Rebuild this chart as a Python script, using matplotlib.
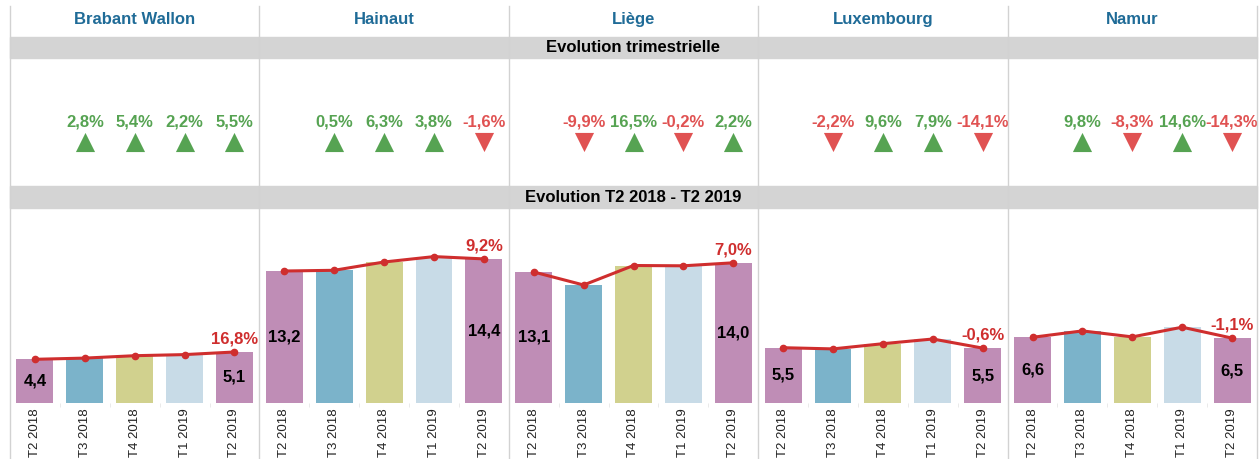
import matplotlib
matplotlib.use("Agg")
import matplotlib.pyplot as plt
from matplotlib.patches import Rectangle
from matplotlib.lines import Line2D

plt.rcParams['font.family'] = ['Liberation Sans', 'DejaVu Sans']

# ── données ──
provinces = ["Brabant Wallon", "Hainaut", "Liège", "Luxembourg", "Namur"]
quarters = ["T2 2018", "T3 2018", "T4 2018", "T1 2019", "T2 2019"]

brabant = [4.37, 4.49, 4.73, 4.84, 5.10]
hainaut = [13.20, 13.27, 14.10, 14.64, 14.41]
liege = [13.10, 11.80, 13.75, 13.72, 14.02]
luxembourg = [5.53, 5.41, 5.93, 6.40, 5.49]
namur = [6.57, 7.21, 6.61, 7.58, 6.49]
values = [brabant, hainaut, liege, luxembourg, namur]

first_labels = ["4,4", "13,2", "13,1", "5,5", "6,6"]
last_labels = ["5,1", "14,4", "14,0", "5,5", "6,5"]
yoy_labels = ["16,8%", "9,2%", "7,0%", "-0,6%", "-1,1%"]

qoq = [
    [2.8, 5.4, 2.2, 5.5],
    [0.5, 6.3, 3.8, -1.6],
    [-9.9, 16.5, -0.2, 2.2],
    [-2.2, 9.6, 7.9, -14.1],
    [9.8, -8.3, 14.6, -14.3],
]

bar_colors = ["#BF8DB6", "#7BB3CA", "#D1D18E", "#C8DBE7", "#BF8DB6"]
GREEN = "#56A352"
RED = "#E05252"
LINE_RED = "#CF2E2E"
BLUE = "#1F6B97"
GREY_BAND = "#D4D4D4"
SEP = "#D2D2D2"

W, H = 1260, 459
fig = plt.figure(figsize=(W / 100, H / 100), dpi=100)

x0, x1 = 10, 1257
pw = (x1 - x0) / 5


def fx(px):
    return px / W


def fy(py):
    return 1 - py / H


# bandes grises
for top, bot, title in [(37, 58, "Evolution trimestrielle"), (186, 208, "Evolution T2 2018 - T2 2019")]:
    fig.patches.append(Rectangle((fx(x0), fy(bot)), fx(x1 - x0), (bot - top) / H,
                                 transform=fig.transFigure, color=GREY_BAND, zorder=0))
    fig.text(fx((x0 + x1) / 2), fy((top + bot) / 2), title, ha="center", va="center",
             fontsize=12, fontweight="bold", color="black")

for i, prov in enumerate(provinces):
    left = x0 + i * pw
    fig.text(fx(left + pw / 2), fy(19.5), prov, ha="center", va="center",
             fontsize=12, fontweight="bold", color=BLUE)

    # évolution trimestrielle
    axa = fig.add_axes([fx(left), fy(186), fx(pw), 128 / H])
    axa.set_xlim(-0.5, 4.5)
    axa.set_ylim(0, 1)
    axa.axis("off")
    for j, v in enumerate(qoq[i]):
        c = GREEN if v >= 0 else RED
        axa.scatter(j + 1, 0.345, marker="^" if v >= 0 else "v", s=190, color=c, linewidths=0)
        axa.text(j + 1, 0.5, f"{v:.1f}%".replace(".", ","), ha="center", va="center",
                 fontsize=12, fontweight="bold", color=c)

    # barres + ligne
    ax = fig.add_axes([fx(left), fy(403), fx(pw), 195 / H])
    vals = values[i]
    xs = range(len(quarters))
    ax.bar(xs, vals, width=0.74, color=bar_colors, zorder=1)
    ax.plot(xs, vals, color=LINE_RED, lw=2.2, marker="o", ms=4.5, zorder=3)
    ax.set_xlim(-0.5, 4.5)
    ax.set_ylim(0, 19.5)
    ax.text(0, vals[0] / 2, first_labels[i], ha="center", va="center",
            fontsize=12, fontweight="bold", color="black", zorder=4)
    ax.text(4, vals[4] / 2, last_labels[i], ha="center", va="center",
            fontsize=12, fontweight="bold", color="black", zorder=4)
    ax.annotate(yoy_labels[i], (4, vals[4]), xytext=(0, 4), textcoords="offset points",
                ha="center", va="bottom", fontsize=12, fontweight="bold", color=LINE_RED, zorder=4)
    for s in ax.spines.values():
        s.set_visible(False)
    ax.set_yticks([])
    ax.set_xticks(list(xs))
    ax.set_xticklabels(quarters, rotation=90, fontsize=9.5, color="#222222")
    ax.tick_params(axis="x", length=0, pad=4)
    ax.set_xticks([0.5, 1.5, 2.5, 3.5], minor=True)
    ax.tick_params(axis="x", which="minor", length=3, color="#E6E6E6")

# séparateurs verticaux
for k in range(6):
    xp = x0 + k * pw
    fig.add_artist(Line2D([fx(xp), fx(xp)], [fy(6), fy(459)], transform=fig.transFigure,
                          color=SEP, lw=1, zorder=5))

fig.savefig("out.png", dpi=100)
